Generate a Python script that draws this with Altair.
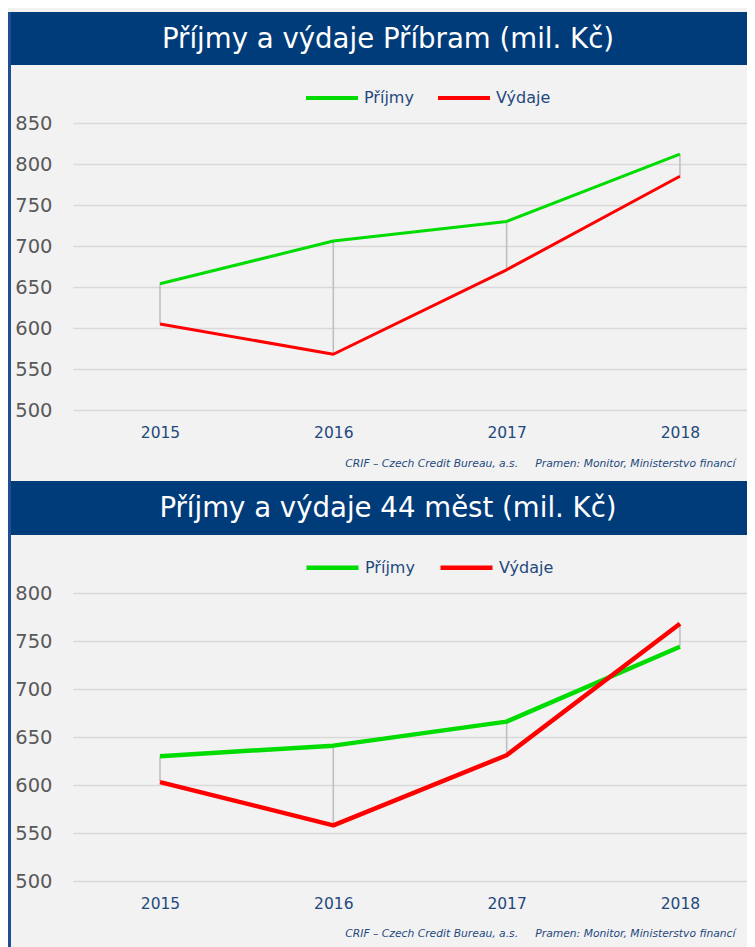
import altair as alt
import pandas as pd

# ---- data ----
YEARS = [2015, 2016, 2017, 2018]
SERIES = ["Příjmy", "Výdaje"]

PRIBRAM_PRIJMY = [654, 706, 730, 812]
PRIBRAM_VYDAJE = [605, 568, 671, 785]

MESTA_PRIJMY = [630, 641, 666, 744]
MESTA_VYDAJE = [603, 558, 631, 768]

TITLE_TOP = "Příjmy a výdaje Příbram (mil. Kč)"
TITLE_BOTTOM = "Příjmy a výdaje 44 měst (mil. Kč)"
SOURCE = ("CRIF – Czech Credit Bureau, a.s.\u00a0\u00a0\u00a0\u00a0 "
          "Pramen: Monitor, Ministerstvo financí")

TICKS_TOP = [500, 550, 600, 650, 700, 750, 800, 850]
TICKS_BOTTOM = [500, 550, 600, 650, 700, 750, 800]

# ---- styling ----
FONT = "DejaVu Sans"
NAVY = "#003b7a"
BORDER = "#1f4f92"
BG = "#f2f2f2"
GRID = "#d9d9d9"
TXT_BLUE = "#1f497d"
TXT_GREY = "#595959"
GREEN = "#00dc00"
RED = "#ff0000"
LINK = "#bfbfbf"

COL_W = 736      # width of the framed column
AXIS_W = 62      # room for y labels inside each panel
X_DOMAIN = [2014.498, 2018.387]


def title_bar(text, h):
    return (
        alt.Chart(pd.DataFrame({"t": [text]}))
        .mark_text(color="white", fontSize=27.6, font=FONT,
                   align="center", baseline="middle")
        .encode(text="t:N", x=alt.value(377), y=alt.value(h / 2 + 1))
        .properties(width=COL_W, height=h,
                    view=alt.ViewBackground(fill=NAVY, strokeWidth=0))
    )


def plot_panel(prijmy, vydaje, ticks, view_h, y_range, line_w, sym_w,
               legend_y, source_y):
    long_df = pd.DataFrame({
        "Rok": YEARS * 2,
        "Řada": [SERIES[0]] * 4 + [SERIES[1]] * 4,
        "Hodnota": prijmy + vydaje,
    })
    wide_df = pd.DataFrame({"Rok": YEARS, "Příjmy": prijmy, "Výdaje": vydaje})

    xscale = alt.Scale(domain=X_DOMAIN, range=[AXIS_W, COL_W],
                       nice=False, zero=False)
    yscale = alt.Scale(domain=[ticks[0], ticks[-1]], range=y_range,
                       zero=False, nice=False)

    xaxis = alt.Axis(
        orient="bottom", offset=-(view_h - y_range[0]), values=YEARS,
        format="d", domain=False, ticks=False, grid=False, labelAngle=0,
        labelFont=FONT, labelFontSize=15.5, labelColor=TXT_BLUE,
        labelPadding=15,
        title=SOURCE, titleFont=FONT, titleFontSize=10.75,
        titleFontStyle="italic", titleFontWeight="normal",
        titleColor=TXT_BLUE, titleAlign="right", titleAnchor="end",
        titleBaseline="middle", titleX=724, titleY=source_y,
    )
    yaxis = alt.Axis(
        orient="left", offset=-AXIS_W, values=ticks, domain=False,
        ticks=False, grid=True, gridColor=GRID, gridWidth=1.7,
        labelFont=FONT, labelFontSize=19.5, labelColor=TXT_GREY,
        labelPadding=21, minExtent=0, title=None,
    )

    links = (
        alt.Chart(wide_df)
        .mark_rule(color=LINK, strokeWidth=1.6)
        .encode(
            x=alt.X("Rok:Q", scale=xscale, axis=xaxis),
            y=alt.Y("Výdaje:Q", scale=yscale, axis=yaxis),
            y2="Příjmy:Q",
        )
    )
    lines = (
        alt.Chart(long_df)
        .mark_line(strokeWidth=line_w, strokeJoin="round")
        .encode(
            x=alt.X("Rok:Q", scale=xscale, axis=xaxis),
            y=alt.Y("Hodnota:Q", scale=yscale, axis=yaxis),
            color=alt.Color(
                "Řada:N",
                scale=alt.Scale(domain=SERIES, range=[GREEN, RED]),
                legend=alt.Legend(
                    orient="none", legendX=293, legendY=legend_y,
                    direction="horizontal", title=None, padding=0,
                    symbolType="stroke", symbolSize=2704,
                    symbolStrokeWidth=sym_w,
                    labelFont=FONT, labelFontSize=16, labelColor=TXT_BLUE,
                    labelOffset=4, columnPadding=16,
                ),
            ),
        )
    )
    return alt.layer(links, lines).properties(width=COL_W, height=view_h)


TOP_BAR_H, TOP_VIEW_H = 53, 416
BOT_BAR_H, BOT_VIEW_H = 54, 412

column = alt.vconcat(
    title_bar(TITLE_TOP, TOP_BAR_H),
    plot_panel(PRIBRAM_PRIJMY, PRIBRAM_VYDAJE, TICKS_TOP, TOP_VIEW_H,
               [345, 58], 3, 4, 5, 53),
    title_bar(TITLE_BOTTOM, BOT_BAR_H),
    plot_panel(MESTA_PRIJMY, MESTA_VYDAJE, TICKS_BOTTOM, BOT_VIEW_H,
               [346, 58], 4.5, 4.5, 4, 52),
    spacing=0,
).resolve_scale(color="independent")

frame_h = TOP_BAR_H + TOP_VIEW_H + BOT_BAR_H + BOT_VIEW_H

border = (
    alt.Chart(pd.DataFrame({"a": [0]}))
    .mark_point(size=0, opacity=0)
    .encode(x=alt.value(0), y=alt.value(0))
    .properties(width=3, height=frame_h,
                view=alt.ViewBackground(fill=BORDER, strokeWidth=0))
)

chart = (
    alt.hconcat(border, column, spacing=0, background=BG,
                padding={"left": 0, "top": 4, "right": 0, "bottom": 0})
    .resolve_scale(color="independent")
    .configure_view(strokeWidth=0)
)

chart.save("out.html", embed_options={"renderer": "svg", "actions": False})
